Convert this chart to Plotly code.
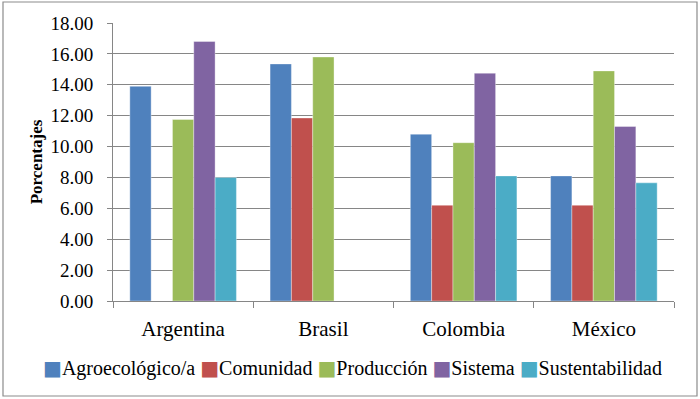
import plotly.graph_objects as go

categories = ["Argentina", "Brasil", "Colombia", "México"]
series_names = ["Agroecológico/a", "Comunidad", "Producción", "Sistema", "Sustentabilidad"]
agroecologico = [13.9, 15.35, 10.8, 8.1]
comunidad = [0, 11.85, 6.2, 6.2]
produccion = [11.75, 15.8, 10.25, 14.9]
sistema = [16.8, 0, 14.75, 11.3]
sustentabilidad = [8.0, 0, 8.1, 7.65]
y_ticks = [0, 2, 4, 6, 8, 10, 12, 14, 16, 18]
colors = ["#4F81BD", "#C0504D", "#9BBB59", "#8064A2", "#4BACC6"]

values = [agroecologico, comunidad, produccion, sistema, sustentabilidad]

W, H = 700, 399
ML, MR, MT, MB = 113, 26, 23, 98
FONT = '"Liberation Serif", "Times New Roman", Times, serif'

fig = go.Figure()
for name, vals, col in zip(series_names, values, colors):
    fig.add_trace(go.Bar(
        x=categories, y=vals, name=name,
        marker=dict(color=col, line=dict(color="rgba(255,255,255,0.6)", width=0.6)),
    ))

pw = W - ML - MR
ph = H - MT - MB
# outer chart border
fig.add_shape(type="rect", xref="paper", yref="paper",
              x0=(3 - ML) / pw, x1=(697 - ML) / pw,
              y0=-(396 - MT - ph) / ph, y1=(ph + MT - 2) / ph,
              line=dict(color="#8C8C8C", width=1.2), fillcolor="rgba(0,0,0,0)", layer="below")

# Excel-style single-row legend built from series names and colours
legend_text = " ".join(
    f'<span style="color:{c};font-family:DejaVu Sans">■</span>'
    f'<span style="font-family:Liberation Serif">{n}</span>'
    for n, c in zip(series_names, colors)
)
fig.add_annotation(text=legend_text, xref="paper", yref="paper",
                   x=(352 - ML) / pw, y=-(368 - MT - ph) / ph,
                   xanchor="center", yanchor="middle", showarrow=False,
                   font=dict(size=20, family=FONT, color="#000000"))

fig.update_layout(
    width=W, height=H,
    margin=dict(l=ML, r=MR, t=MT, b=MB),
    paper_bgcolor="white", plot_bgcolor="white",
    barmode="group", bargap=0.24, bargroupgap=0,
    font=dict(family=FONT, color="#000000"),
    showlegend=False,
    xaxis=dict(
        showline=True, linecolor="#868686", linewidth=1,
        ticks="outside", tickson="boundaries", ticklen=6, tickcolor="#868686",
        tickfont=dict(size=21, family=FONT), showgrid=False, ticklabelstandoff=9,
        automargin=False,
    ),
    yaxis=dict(
        range=[0, 18], tickvals=y_ticks, tickformat=".2f",
        showline=True, linecolor="#868686", linewidth=1,
        ticks="outside", ticklen=5, tickcolor="#868686",
        showgrid=True, gridcolor="#868686", gridwidth=1,
        tickfont=dict(size=19, family=FONT), ticklabelstandoff=10,
        title=dict(text="<b>Porcentajes</b>", font=dict(size=17, family=FONT), standoff=3),
        zeroline=False, automargin=False,
    ),
)

fig.write_html("out.html", config={"displayModeBar": False},
               post_script="document.body.style.margin='0';")
